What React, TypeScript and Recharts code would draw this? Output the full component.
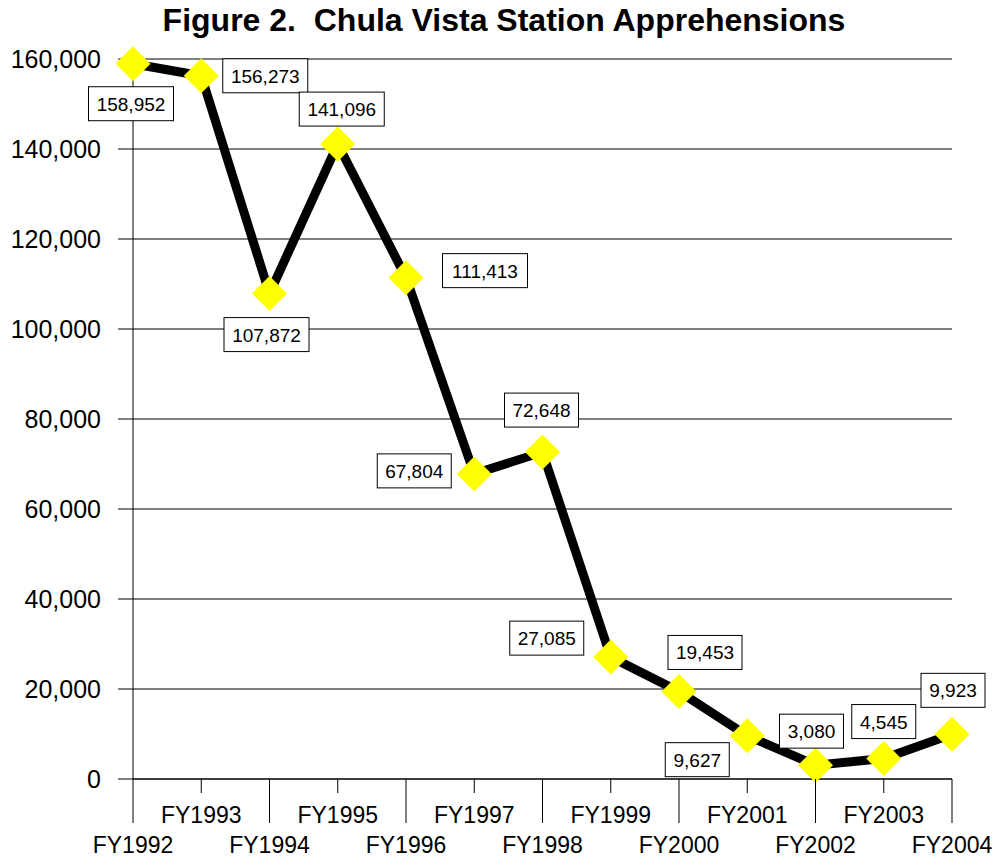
import React from 'react';
import { CartesianGrid, LabelList, Line, LineChart, XAxis, YAxis } from 'recharts';

const YEARS = [
  'FY1992', 'FY1993', 'FY1994', 'FY1995', 'FY1996', 'FY1997', 'FY1998',
  'FY1999', 'FY2000', 'FY2001', 'FY2002', 'FY2003', 'FY2004',
];
const APPREHENSIONS = [
  158952, 156273, 107872, 141096, 111413, 67804, 72648,
  27085, 19453, 9627, 3080, 4545, 9923,
];
const Y_TICKS = [0, 20000, 40000, 60000, 80000, 100000, 120000, 140000, 160000];

// where each value box sits relative to its point (center offset, px)
const LABEL_OFFSETS: [number, number][] = [
  [-2, 40], [64, 0], [-3, 41], [4, -35], [79, -7], [-60, -3], [-1, -42],
  [-64, -19], [26, -39], [-50, 24], [-4, -34], [0, -37], [1, -44],
];

const FONT = '"Liberation Sans", Arial, sans-serif';

const rows = YEARS.map((year, i) => ({ year, value: APPREHENSIONS[i] }));

const fmt = (v: number) => v.toLocaleString('en-US');

function Diamond(props: any) {
  const { cx, cy } = props;
  if (cx == null || cy == null) return null;
  const r = 17.5;
  return (
    <polygon
      points={`${cx},${cy - r} ${cx + r},${cy} ${cx},${cy + r} ${cx - r},${cy}`}
      fill="#ffff00"
      stroke="none"
    />
  );
}

function ValueBox(props: any) {
  const { x, y, value, index } = props;
  if (x == null || y == null) return null;
  const text = fmt(value);
  const [dx, dy] = LABEL_OFFSETS[index] ?? [0, -30];
  const fs = 19;
  const digits = text.replace(/,/g, '').length;
  const commas = text.length - digits;
  const w = Math.round((digits * 0.556 + commas * 0.278) * fs) + 16;
  const h = 34;
  const cx = x + dx;
  const cy = y + dy;
  return (
    <g>
      <rect x={cx - w / 2} y={cy - h / 2} width={w} height={h} fill="#fff" stroke="#000" strokeWidth={1} />
      <text x={cx} y={cy + 7} textAnchor="middle" fontFamily={FONT} fontSize={fs} fill="#000">
        {text}
      </text>
    </g>
  );
}

// odd years sit on an upper row with short ticks, even years lower with long ticks
function YearTick(props: any) {
  const { x, y, payload } = props;
  const upper = payload.index % 2 === 1;
  const len = upper ? 14 : 44;
  return (
    <g>
      <line x1={x} y1={y} x2={x} y2={y + len} stroke="#000" strokeWidth={1} />
      <text
        x={x}
        y={upper ? y + 44 : y + 74}
        textAnchor="middle"
        fontFamily={FONT}
        fontSize={23}
        fill="#000"
      >
        {payload.value}
      </text>
    </g>
  );
}

export default function App() {
  return (
    <div style={{ position: 'absolute', left: 0, top: 0, width: 995, height: 858, background: '#fff' }}>
      <div
        style={{
          position: 'absolute',
          left: 0,
          top: 2,
          width: 995,
          textAlign: 'center',
          fontFamily: FONT,
          fontWeight: 700,
          fontSize: 32,
          lineHeight: '37px',
          whiteSpace: 'pre',
          color: '#000',
          paddingLeft: 13,
          boxSizing: 'border-box',
        }}
      >
        {'Figure 2.  Chula Vista Station Apprehensions'}
      </div>
      <LineChart width={995} height={858} data={rows} margin={{ top: 59, right: 43, bottom: 0, left: 0 }}>
        <CartesianGrid horizontal vertical={false} stroke="#000" strokeWidth={1} />
        <XAxis
          dataKey="year"
          height={79}
          interval={0}
          tickSize={0}
          tickMargin={0}
          tickLine={false}
          tick={<YearTick />}
          axisLine={{ stroke: '#000' }}
        />
        <YAxis
          width={133}
          domain={[0, 160000]}
          ticks={Y_TICKS}
          tickFormatter={fmt}
          tickSize={15}
          tickMargin={17}
          tickLine={{ stroke: '#000' }}
          axisLine={{ stroke: '#000' }}
          tick={{ fontFamily: FONT, fontSize: 25, fill: '#000' }}
        />
        <Line
          dataKey="value"
          type="linear"
          stroke="#000"
          strokeWidth={9}
          dot={<Diamond />}
          activeDot={false}
          isAnimationActive={false}
        >
          <LabelList dataKey="value" content={<ValueBox />} />
        </Line>
      </LineChart>
    </div>
  );
}
